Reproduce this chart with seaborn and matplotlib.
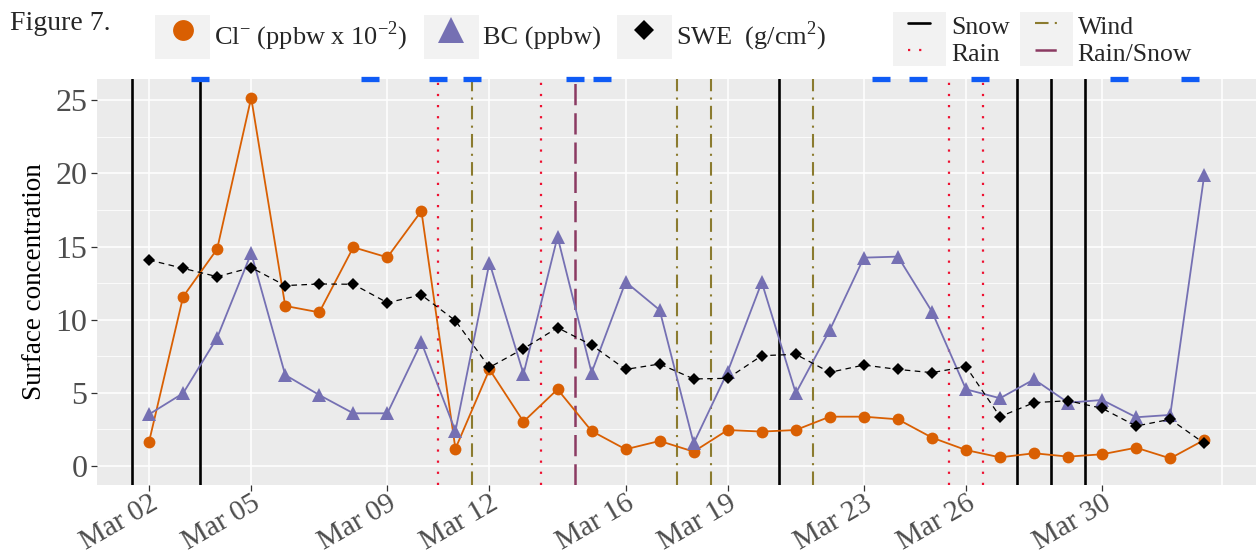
import pandas as pd
import seaborn as sns
import matplotlib.pyplot as plt
from matplotlib.lines import Line2D
from matplotlib.patches import Patch
from matplotlib.legend_handler import HandlerLine2D
from matplotlib.ticker import FixedLocator
import matplotlib.dates as mdates

# daily samples, Mar 02 .. Apr 02
dates = pd.date_range("2019-03-02", periods=32, freq="D")

cl = [1.66, 11.57, 14.83, 25.17, 10.94, 10.50, 14.95, 14.26, 17.43, 1.18,
      6.60, 3.03, 5.24, 2.39, 1.14, 1.71, 0.98, 2.46, 2.35, 2.46,
      3.37, 3.37, 3.19, 1.94, 1.09, 0.59, 0.87, 0.64, 0.80, 1.25,
      0.52, 1.78]
bc = [3.53, 4.97, 8.77, 14.54, 6.22, 4.85, 3.60, 3.60, 8.45, 2.39,
      13.90, 6.29, 15.67, 6.38, 12.58, 10.66, 1.55, 6.45, 12.56, 4.97,
      9.30, 14.24, 14.31, 10.55, 5.24, 4.63, 5.92, 4.33, 4.51, 3.33,
      3.49, 19.89]
swe = [14.08, 13.51, 12.94, 13.56, 12.33, 12.44, 12.42, 11.16, 11.69, 9.93,
       6.74, 8.02, 9.45, 8.27, 6.60, 6.97, 5.95, 5.99, 7.54, 7.63,
       6.40, 6.90, 6.60, 6.38, 6.79, 3.37, 4.33, 4.46, 3.94, 2.73,
       3.19, 1.55]

# weather events
snow = ["2019-03-01 12:00", "2019-03-03 12:00", "2019-03-20 12:00",
        "2019-03-27 12:00", "2019-03-28 12:00", "2019-03-29 12:00"]
rain = ["2019-03-10 12:00", "2019-03-13 12:00", "2019-03-25 12:00", "2019-03-26 12:00"]
wind = ["2019-03-11 12:00", "2019-03-17 12:00", "2019-03-18 12:00", "2019-03-21 12:00"]
rain_snow = ["2019-03-14 12:00"]

# blue markers along top edge
top_marks = ["2019-03-03 12:00", "2019-03-08 12:00", "2019-03-10 12:00", "2019-03-11 12:00",
             "2019-03-14 12:00", "2019-03-15 07:00", "2019-03-23 12:00", "2019-03-24 14:00",
             "2019-03-26 10:00", "2019-03-30 12:00", "2019-04-01 14:00"]

tick_dates = ["2019-03-02", "2019-03-05", "2019-03-09", "2019-03-12", "2019-03-16",
              "2019-03-19", "2019-03-23", "2019-03-26", "2019-03-30"]
tick_labels = ["Mar 02", "Mar 05", "Mar 09", "Mar 12", "Mar 16",
               "Mar 19", "Mar 23", "Mar 26", "Mar 30"]

ORANGE = "#D95F02"
PURPLE = "#7570B3"
RED = "#EE1030"
OLIVE = "#8B7B2F"
MAUVE = "#8B3A62"
BLUE = "#0F5BF5"

sns.set_theme(style="darkgrid", rc={"axes.facecolor": "#EBEBEB", "grid.color": "white"})
plt.rcParams["font.family"] = ["Liberation Serif", "DejaVu Serif"]
plt.rcParams["mathtext.fontset"] = "custom"
plt.rcParams["mathtext.rm"] = "Liberation Serif"

fig = plt.figure(figsize=(12.56, 5.55), dpi=100)
ax = fig.add_axes([97 / 1256, 1 - 485 / 555, 1 - 97 / 1256, (485 - 79) / 555])

lw_ev = dict(zorder=1.5)
for d in snow:
    ax.axvline(pd.Timestamp(d), color="black", lw=1.9, **lw_ev)
for d in rain:
    ax.axvline(pd.Timestamp(d), color=RED, lw=1.6, ls=(0, (1, 4)), **lw_ev)
for d in wind:
    ax.axvline(pd.Timestamp(d), color=OLIVE, lw=1.5, ls=(0, (6.5, 3, 1, 3)), **lw_ev)
for d in rain_snow:
    ax.axvline(pd.Timestamp(d), color=MAUVE, lw=1.8, ls=(0, (8.5, 3.2)), **lw_ev)

sns.lineplot(x=dates, y=cl, color=ORANGE, lw=1.3, marker="o", markersize=8.5,
             markeredgewidth=0, ax=ax, zorder=3)
sns.lineplot(x=dates, y=bc, color=PURPLE, lw=1.3, marker="^", markersize=10,
             markeredgewidth=0, ax=ax, zorder=3)
sns.lineplot(x=dates, y=swe, color="black", lw=0.9, ls=(0, (4.5, 3.5)), marker="D",
             markersize=6.5, markeredgewidth=0, ax=ax, zorder=4)

top = pd.to_datetime(top_marks)
ax.plot(top, [1.0] * len(top), transform=ax.get_xaxis_transform(), ls="none",
        marker="_", markersize=13, markeredgewidth=3.8, color=BLUE, clip_on=False, zorder=5)

start = pd.Timestamp("2019-03-02")
ax.set_xlim(start - pd.Timedelta(days=1.53), start + pd.Timedelta(days=32.52))
ax.set_ylim(-1.3, 26.45)

ax.xaxis.set_major_locator(FixedLocator(mdates.date2num(pd.to_datetime(tick_dates))))
ax.set_xticklabels(tick_labels)
ax.xaxis.set_minor_locator(FixedLocator([mdates.date2num(pd.Timestamp("2019-04-02 12:30"))]))
ax.set_yticks([0, 5, 10, 15, 20, 25])
ax.set_yticks([2.5, 7.5, 12.5, 17.5, 22.5], minor=True)

ax.grid(which="major", color="white", lw=1.1)
ax.grid(which="minor", axis="y", color="white", lw=0.55)
ax.grid(which="minor", axis="x", color="white", lw=1.1)
ax.tick_params(which="major", length=4, width=0.9, color="#333333", bottom=True, left=True,
               labelsize=23, labelcolor="#4D4D4D", pad=3)
ax.tick_params(axis="x", which="major", pad=0, labelsize=21)
ax.tick_params(which="minor", length=0)
for lab in ax.get_xticklabels():
    lab.set_rotation(30)
    lab.set_ha("right")
    lab.set_va("top")
    lab.set_rotation_mode("anchor")

for s in ax.spines.values():
    s.set_visible(False)

ax.set_xlabel("")
ax.set_ylabel("Surface concentration", fontsize=19.5, color="black", labelpad=6)

fig.text(0.008, 0.958, "Figure 7.", fontsize=20, va="center", ha="left")

KEY = "#F2F2F2"
h1 = [(Patch(facecolor=KEY, edgecolor="none"),
       Line2D([], [], ls="none", marker="o", markersize=15, color=ORANGE, markeredgewidth=0)),
      (Patch(facecolor=KEY, edgecolor="none"),
       Line2D([], [], ls="none", marker="^", markersize=19, color=PURPLE, markeredgewidth=0)),
      (Patch(facecolor=KEY, edgecolor="none"),
       Line2D([], [], ls="none", marker="D", markersize=10, color="black", markeredgewidth=0))]
l1 = ["Cl$^{-}$ (ppbw x 10$^{-2}$)", "BC (ppbw)", "SWE  (g/cm$^{2}$)"]
leg1 = fig.legend(h1, l1, loc="center left", bbox_to_anchor=(155 / 1256, 0.934), ncol=3,
                  frameon=False, fontsize=19, handlelength=2.1, handleheight=2.2,
                  handletextpad=0.15, columnspacing=0.6, borderpad=0, borderaxespad=0)

h2 = [(Patch(facecolor=KEY, edgecolor="none"), Line2D([], [], color="black", lw=1.9)),
      (Patch(facecolor=KEY, edgecolor="none"), Line2D([], [], color=RED, lw=1.6, ls=(0, (1, 4)))),
      (Patch(facecolor=KEY, edgecolor="none"), Line2D([], [], color=OLIVE, lw=1.5, ls=(0, (6.5, 3, 1, 3)))),
      (Patch(facecolor=KEY, edgecolor="none"), Line2D([], [], color=MAUVE, lw=1.8, ls=(0, (8.5, 3.2))))]
l2 = ["Snow", "Rain", "Wind", "Rain/Snow"]
leg2 = fig.legend(h2, l2, loc="center left", bbox_to_anchor=(893 / 1256, 0.93), ncol=2,
                  frameon=False, fontsize=18.5, handlelength=2.05, handleheight=1.25,
                  handletextpad=0.2, columnspacing=0.4, labelspacing=0.0, borderpad=0,
                  borderaxespad=0,
                  handler_map={Line2D: HandlerLine2D(marker_pad=0.6, numpoints=2)})

fig.savefig("out.png", dpi=100)
